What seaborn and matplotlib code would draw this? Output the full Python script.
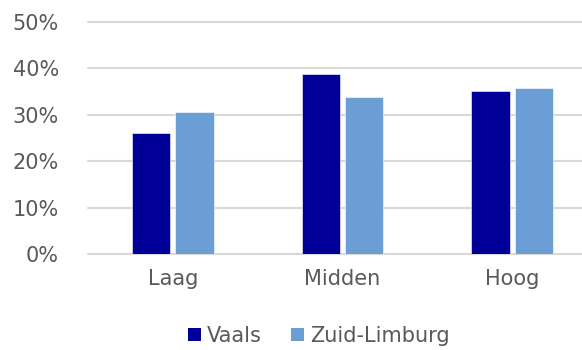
import matplotlib
matplotlib.use("Agg")
import matplotlib.pyplot as plt
import seaborn as sns
import pandas as pd
from matplotlib.patches import Patch
from matplotlib.ticker import FuncFormatter

# Share per level for each area (fractions)
categories = ["Laag", "Midden", "Hoog"]
series_names = ["Vaals", "Zuid-Limburg"]
vaals = [0.261, 0.389, 0.351]
zuid_limburg = [0.305, 0.338, 0.357]
colors = ["#000099", "#6A9ED4"]
y_ticks = [0.0, 0.1, 0.2, 0.3, 0.4, 0.5]

df = pd.DataFrame({
    "niveau": categories * 2,
    "gebied": [series_names[0]] * 3 + [series_names[1]] * 3,
    "aandeel": vaals + zuid_limburg,
})

sns.set_theme(style="white")
plt.rcParams["font.family"] = ["DejaVu Sans"]
text_color = "#595959"
fs = 15

fig = plt.figure(figsize=(5.82, 3.5), dpi=100)
ax = fig.add_axes([88 / 582, 1 - 254 / 350, (597 - 88) / 582, (254 - 22) / 350])

sns.barplot(
    data=df, x="niveau", y="aandeel", hue="gebied", order=categories,
    hue_order=series_names, palette=colors, width=0.51, gap=0.12,
    saturation=1, ax=ax, legend=False, edgecolor="white", linewidth=0.4,
)

ax.set_ylim(0, 0.5)
ax.set_xlim(-0.5, 2.5)
ax.set_yticks(y_ticks)
ax.yaxis.set_major_formatter(FuncFormatter(lambda v, _: f"{v * 100:.0f}%"))
ax.grid(axis="y", color="#D9D9D9", linewidth=1.5)
for gl in ax.get_ygridlines():
    gl.set_clip_on(False)
ax.set_axisbelow(True)
for s in ax.spines.values():
    s.set_visible(False)
ax.set_xlabel("")
ax.set_ylabel("")
ax.tick_params(axis="y", length=0, pad=21, labelsize=fs, labelcolor=text_color)
ax.tick_params(axis="x", length=0, pad=11, labelsize=fs, labelcolor=text_color)

handles = [Patch(facecolor=c, edgecolor="none") for c in colors]
fig.legend(handles, series_names, loc="center", bbox_to_anchor=(319 / 582, 1 - 336 / 350),
           ncol=2, frameon=False, fontsize=fs, labelcolor=text_color,
           handlelength=0.62, handleheight=0.62, handletextpad=0.3, columnspacing=1.4)

fig.savefig("out.png", dpi=100)
